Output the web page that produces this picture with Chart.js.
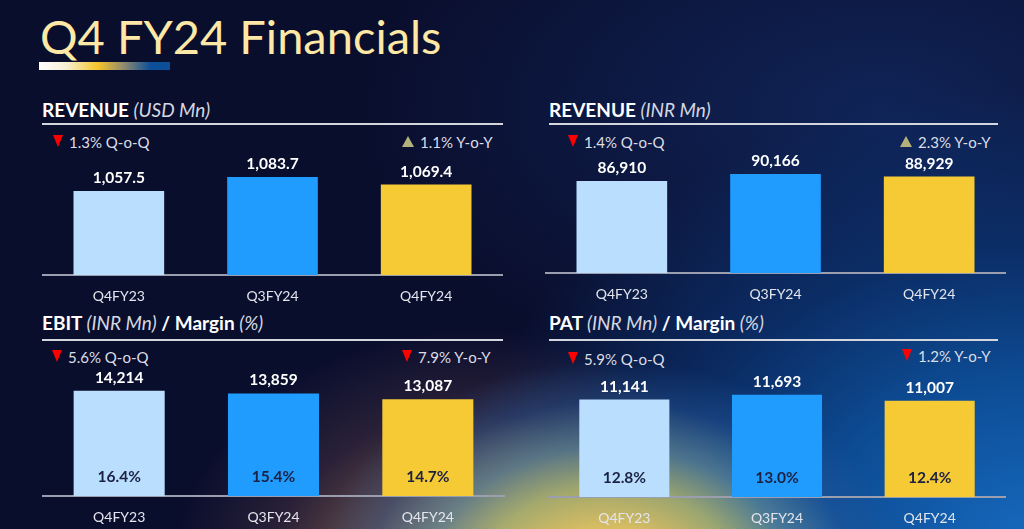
<!DOCTYPE html>
<html>
<head>
<meta charset="utf-8">
<script src="https://cdn.jsdelivr.net/npm/chart.js@4.4.1/dist/chart.umd.min.js"></script>
<style>
  html, body { margin: 0; padding: 0; }
  body {
    width: 1024px; height: 529px; overflow: hidden; position: relative;
    font-family: Lato, "Open Sans", sans-serif;
    background:
      radial-gradient(ellipse 300px 230px at 610px 590px, rgba(240,205,95,1) 0%, rgba(220,195,100,0.95) 28%, rgba(175,185,115,0.85) 45%, rgba(100,145,160,0.7) 62%, rgba(40,90,155,0.4) 82%, rgba(20,60,130,0) 100%),
      radial-gradient(ellipse 300px 260px at 470px 590px, rgba(185,135,85,0.95) 0%, rgba(135,95,75,0.75) 38%, rgba(80,55,70,0.45) 68%, rgba(30,25,55,0) 100%),
      radial-gradient(ellipse 580px 450px at 1030px 540px, rgba(22,105,190,1) 0%, rgba(13,80,155,0.95) 35%, rgba(11,55,120,0.7) 65%, rgba(10,30,80,0) 100%),
      radial-gradient(ellipse 520px 280px at 880px 110px, rgba(18,45,105,0.7) 0%, rgba(10,20,60,0) 100%),
      #0a0e2d;
  }
  .title {
    position: absolute; left: 40px; top: 8px;
    font-size: 47px; color: #fde8a6; white-space: nowrap;
  }
  .underline {
    position: absolute; left: 39px; top: 62px; width: 131px; height: 8px;
    background: linear-gradient(90deg, #ffffff 0%, #f7f0d8 20%, #f5c52a 45%, #8e8a70 65%, #0d4f98 85%, #0b4f9a 100%);
  }
  .ptitle {
    position: absolute; font-size: 19px; font-weight: 700; color: #ffffff; white-space: nowrap;
  }
  .ptitle i { font-weight: 400; color: #d6d8e2; }
  .rule { position: absolute; height: 2px; background: #d4d6de; }
  .chg {
    position: absolute; font-size: 15px; color: #dcdde6; white-space: nowrap; line-height: 16px;
  }
  .tri { display: inline-block; width: 0; height: 0; margin-right: 6px; vertical-align: 1px; }
  .down { border-left: 5px solid transparent; border-right: 5px solid transparent; border-top: 12px solid #ff0000; }
  .up { border-left: 6px solid transparent; border-right: 6px solid transparent; border-bottom: 11px solid #b3b27a; }
  canvas { position: absolute; }
</style>
</head>
<body>
<div class="title">Q4 FY24 Financials</div>
<div class="underline"></div>

<div class="ptitle" style="left:42px; top:98px;">REVENUE <i>(USD Mn)</i></div>
<div class="rule" style="left:42px; top:123px; width:461px;"></div>
<div class="ptitle" style="left:549px; top:98px;">REVENUE <i>(INR Mn)</i></div>
<div class="rule" style="left:549px; top:123px; width:449px;"></div>
<div class="ptitle" style="left:42px; top:311px;">EBIT <i>(INR Mn)</i> / Margin <i>(%)</i></div>
<div class="rule" style="left:42px; top:339px; width:461px;"></div>
<div class="ptitle" style="left:549px; top:311px;">PAT <i>(INR Mn)</i> / Margin <i>(%)</i></div>
<div class="rule" style="left:549px; top:339px; width:449px;"></div>

<div id="chg"></div>

<canvas id="c1" width="461" height="174" style="left:42px; top:130px;"></canvas>
<canvas id="c2" width="461" height="172" style="left:545px; top:130px;"></canvas>
<canvas id="c3" width="463" height="179" style="left:42px; top:346px;"></canvas>
<canvas id="c4" width="458" height="180" style="left:548px; top:346px;"></canvas>

<script>
// quarters
var quarters = ['Q4FY23', 'Q3FY24', 'Q4FY24'];

// values
var revenueUsd = [1057.5, 1083.7, 1069.4];
var revenueInr = [86910, 90166, 88929];
var ebit = [14214, 13859, 13087];
var ebitMargin = [16.4, 15.4, 14.7];
var pat = [11141, 11693, 11007];
var patMargin = [12.8, 13.0, 12.4];

// change callouts: [direction, text, left, top]
var changes = [
  ['down', '1.3% Q-o-Q', 53, 134],
  ['up', '1.1% Y-o-Y', 402, 134],
  ['down', '1.4% Q-o-Q', 568, 134],
  ['up', '2.3% Y-o-Y', 900, 134],
  ['down', '5.6% Q-o-Q', 52, 349],
  ['down', '7.9% Y-o-Y', 402, 349],
  ['down', '5.9% Q-o-Q', 568, 351],
  ['down', '1.2% Y-o-Y', 902, 348]
];

var barColors = ['#badefd', '#209bfe', '#f5ca34'];

var html = '';
changes.forEach(function (c) {
  html += '<div class="chg" style="left:' + c[2] + 'px; top:' + c[3] + 'px;">' +
    '<span class="tri ' + c[0] + '"></span>' + c[1] + '</div>';
});
document.getElementById('chg').innerHTML = html;

// draws value above each bar, and margin inside when given
var valueLabels = {
  id: 'valueLabels',
  afterDatasetsDraw: function (chart, args, opts) {
    var ctx = chart.ctx;
    var meta = chart.getDatasetMeta(0);
    var data = chart.data.datasets[0].data;
    ctx.save();
    ctx.textAlign = 'center';
    ctx.textBaseline = 'middle';
    meta.data.forEach(function (bar, i) {
      ctx.font = 'bold 15.5px Lato';
      ctx.fillStyle = '#ffffff';
      ctx.fillText(data[i].toLocaleString('en-US', { minimumFractionDigits: opts.decimals, maximumFractionDigits: opts.decimals }), bar.x, bar.y - 13);
      if (opts.margins) {
        ctx.fillStyle = '#1b2142';
        ctx.fillText(opts.margins[i].toFixed(1) + '%', bar.x, bar.base - 19);
      }
    });
    ctx.restore();
  }
};

function makeChart(id, values, yMin, yMax, decimals, margins) {
  return new Chart(document.getElementById(id), {
    type: 'bar',
    data: {
      labels: quarters,
      datasets: [{
        data: values,
        backgroundColor: barColors,
        borderWidth: 0,
        categoryPercentage: 1,
        barPercentage: 0.59
      }]
    },
    options: {
      responsive: false,
      animation: false,
      layout: { padding: 0 },
      plugins: {
        legend: { display: false },
        tooltip: { enabled: false },
        valueLabels: { decimals: decimals, margins: margins }
      },
      scales: {
        x: {
          grid: { display: false, drawTicks: false },
          border: { display: true, color: '#9a9eae', width: 2 },
          ticks: { color: '#e4e5ec', font: { family: 'Lato', size: 14 }, padding: 13 },
          afterFit: function (scale) { scale.height = 29; }
        },
        y: { display: false, min: yMin, max: yMax }
      }
    },
    plugins: [valueLabels]
  });
}

makeChart('c1', revenueUsd, 900, 1171.5, 1, null);
makeChart('c2', revenueInr, 44100, 110600, 0, null);
makeChart('c3', ebit, 0, 20270, 0, ebitMargin);
makeChart('c4', pat, 0, 17257, 0, patMargin);
</script>
</body>
</html>
